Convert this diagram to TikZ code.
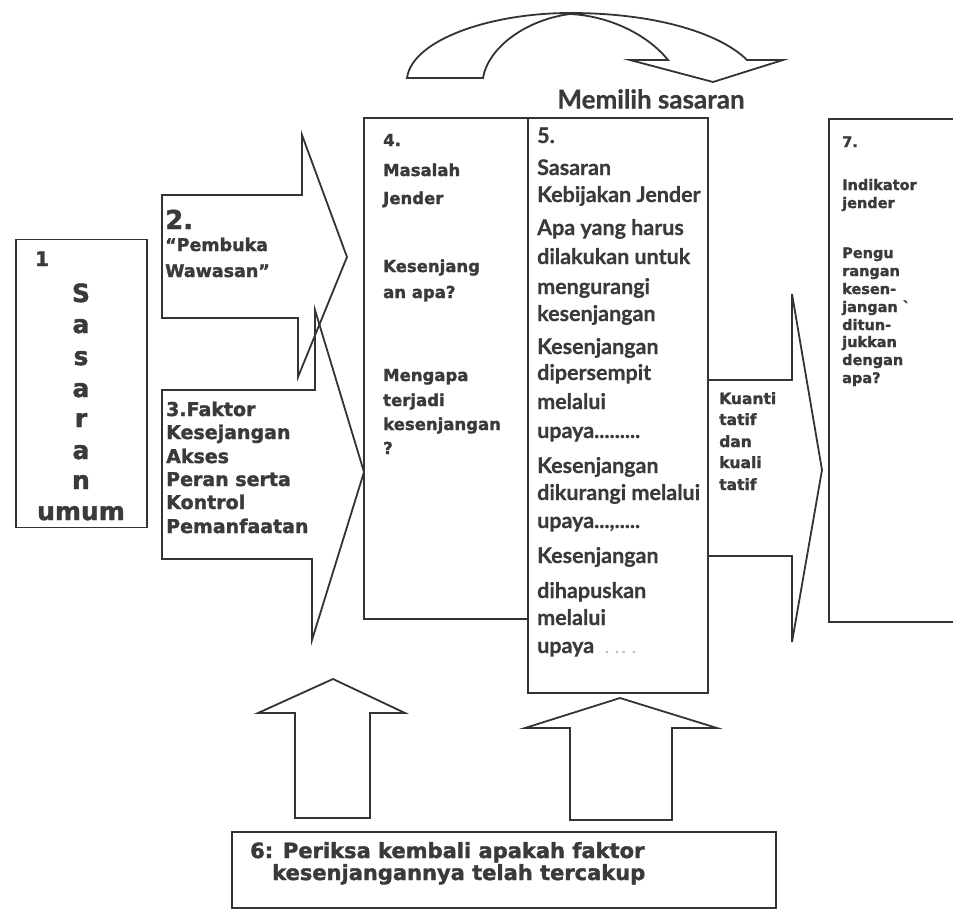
\documentclass[tikz,border=0pt]{standalone}
\usepackage{fontspec}
\setmainfont{Lato}
\newfontfamily\hv{DejaVu Sans}[BoldFeatures={FakeBold=1.6}]
\newfontfamily\gs{Lato}[BoldFeatures={FakeBold=0.6}]
\definecolor{inkc}{HTML}{333333}
\definecolor{txtc}{HTML}{3A3A3A}
\definecolor{dotc}{HTML}{BBBBBB}
\newcommand\upA{upaya.........}
\newcommand\upB{upaya...,.....}
\tikzset{
  ln/.style={draw=inkc, line width=1.8pt, line join=miter},
  hvt/.style={font=\hv\bfseries\fontsize{#1}{#1}\selectfont, text=txtc, inner sep=0pt, anchor=base west},
  gst/.style={font=\gs\bfseries\fontsize{#1}{#1}\selectfont, text=txtc, inner sep=0pt, anchor=base west},
  ctr/.style={anchor=base}
}
\begin{document}
\begin{tikzpicture}[x=1pt,y=-1pt]
\useasboundingbox[fill=white] (0,0) rectangle (953,916);

% ---- top curved arrow
\draw[ln] (407,78) .. controls (412,40) and (490,13) .. (570,13)
  .. controls (660,13) and (722,35) .. (747,60) -- (783,60) -- (713,82) -- (630,60) -- (668,60)
  .. controls (648,35) and (610,16) .. (570,14)
  .. controls (525,20) and (488,48) .. (483,78) -- cycle;
\node[gst=26, anchor=center] (memilih) at (651,99) {Memilih sasaran};

% ---- box 1
\node[draw=inkc, line width=1.8pt, minimum width=131pt, minimum height=288pt, inner sep=0pt] (b1) at (81.5,383.5) {};
\node[hvt=20, ctr] (n1) at (42,266) {1};
\foreach \ch/\yy [count=\i] in {S/302,a/333,s/365,a/397,r/427,a/459,n/489}
  \node[hvt=25, ctr] (b1c\i) at (81,\yy) {\ch};
\node[hvt=25, ctr] (umum) at (81,520) {umum};

% ---- arrow 2
\draw[ln] (162,195) -- (302,195) -- (302,135) -- (347,257) -- (298,377) -- (298,318) -- (162,318) -- cycle;
\node[hvt=26] (a2n) at (165,229) {2.};
\node[hvt=17.5] (a2a) at (165,251) {“Pembuka};
\node[hvt=17.5] (a2b) at (165,277) {Wawasan”};

% ---- arrow 3
\draw[ln] (162,390) -- (315,390) -- (315,310) -- (364,472) -- (312,640) -- (312,559) -- (162,559) -- cycle;
\foreach \t/\yy [count=\i] in {3.Faktor/416,Kesejangan/439,Akses/463,Peran serta/486,Kontrol/509,Pemanfaatan/533}
  \node[hvt=19] (a3l\i) at (166,\yy) {\t};

% ---- box 4
\draw[ln] (364,118) rectangle (528,619);
\foreach \t/\yy [count=\i] in {4./146,Masalah/176,Jender/204,Kesenjang/272,an apa?/298,Mengapa/381,terjadi/406,kesenjangan/430,?/454}
  \node[hvt=16.5] (b4l\i) at (383,\yy) {\t};

% ---- box 5
\draw[ln] (528,118) rectangle (708,693);
\foreach \t/\yy [count=\i] in {5./143,Sasaran/175,Kebijakan Jender/202,Apa yang harus/235,dilakukan untuk/264,mengurangi/294,kesenjangan/321,Kesenjangan/354,dipersempit/380,melalui/409,\upA/438,Kesenjangan/473,dikurangi melalui/500,\upB/528,Kesenjangan/563,dihapuskan/598,melalui/625,upaya/653}
  \node[gst=21.5] (b5l\i) at (537,\yy) {\t};
\node[gst=14, text=dotc] (b5dots) at (605,653) {.\ \ .\ .\ \ .};

% ---- Kuantitatif arrow
\draw[ln] (708,380) -- (792,380) -- (792,294) -- (822,470) -- (792,642) -- (792,556) -- (708,556);
\foreach \t/\yy [count=\i] in {Kuanti/404,tatif/425,dan/447,kuali/468,tatif/490}
  \node[hvt=15.5] (kql\i) at (719,\yy) {\t};

% ---- box 7
\draw[ln] (953,119) -- (829,119) -- (829,622) -- (953,622);
\foreach \t/\yy [count=\i] in {7./147,Indikator/190,jender/208,Pengu/258,rangan/276,kesen-/294,jangan `/312,ditun-/330,jukkan/347,dengan/365,apa?/383}
  \node[hvt=14.5] (b7l\i) at (842,\yy) {\t};

% ---- up arrows
\draw[ln] (295,818) -- (295,713) -- (258,713) -- (333,679) -- (405,713) -- (370,713) -- (370,818) -- cycle;
\draw[ln] (570,820) -- (570,728) -- (525,728) -- (620,698) -- (717,728) -- (672,728) -- (672,820) -- cycle;

% ---- box 6
\draw[ln] (232,832) rectangle (776,908);
\node[hvt=21] (b6a) at (250,858) {6: Periksa kembali apakah faktor};
\node[hvt=21] (b6b) at (272,880) {kesenjangannya telah tercakup};
\end{tikzpicture}
\end{document}
